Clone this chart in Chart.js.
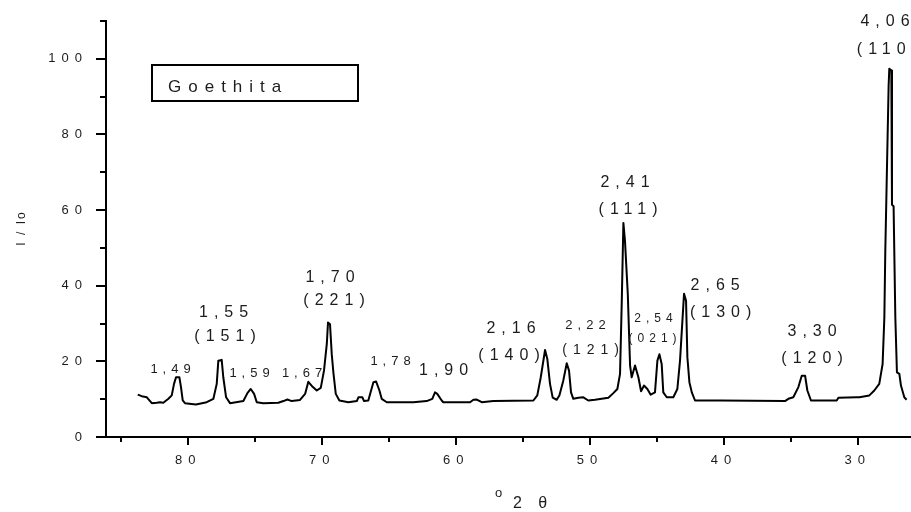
<!DOCTYPE html>
<html>
<head>
<meta charset="utf-8">
<script src="https://cdn.jsdelivr.net/npm/chart.js@4.4.1/dist/chart.umd.min.js"></script>
<style>
  html, body { margin: 0; padding: 0; background: #fff; }
  #wrap { width: 911px; height: 512px; }
</style>
</head>
<body>
<div id="wrap"><canvas id="xrd"></canvas></div>
<script>
// ── Goethite XRD pattern ──

var twoTheta = [
  83.78, 83.48, 83.10, 82.73, 82.36, 82.11, 81.87, 81.49, 81.24, 81.07,
  80.92, 80.67, 80.55, 80.42, 80.25, 79.43, 78.63, 78.13, 77.88, 77.76,
  77.51, 77.39, 77.18, 76.89, 75.89, 75.59, 75.34, 75.09, 74.89, 74.40,
  73.28, 72.90, 72.60, 72.28, 71.66, 71.28, 71.04, 70.78, 70.41, 70.11,
  69.87, 69.66, 69.57, 69.42, 69.29, 69.17, 68.99, 68.72, 68.05, 67.42,
  67.30, 67.00, 66.88, 66.56, 66.18, 65.98, 65.73, 65.56, 65.18, 63.20,
  62.20, 61.78, 61.58, 61.41, 61.08, 60.96, 58.96, 58.71, 58.46, 58.09,
  57.22, 54.23, 53.94, 53.68, 53.36, 53.19, 52.99, 52.79, 52.49, 52.29,
  52.00, 51.74, 51.57, 51.42, 51.25, 50.87, 50.50, 50.13, 49.63, 48.63,
  48.26, 47.96, 47.76, 47.63, 47.51, 47.39, 47.18, 47.01, 46.89, 46.64,
  46.39, 46.19, 45.97, 45.72, 45.47, 45.15, 44.97, 44.82, 44.65, 44.53,
  44.27, 43.78, 43.48, 43.28, 42.98, 42.83, 42.73, 42.58, 42.40, 42.16,
  40.29, 35.44, 35.19, 34.82, 34.44, 34.19, 33.94, 33.77, 33.50, 31.58,
  31.45, 30.08, 29.88, 29.14, 28.77, 28.40, 28.15, 28.02, 27.95, 27.85,
  27.70, 27.65, 27.50, 27.45, 27.33, 27.20, 27.08, 26.90, 26.78, 26.53,
  26.36
];

var intensity = [
  11.2, 10.8, 10.5, 8.95, 9.05, 9.2, 9.05, 10.1, 11.0, 14.05,
  15.8, 15.8, 13.2, 9.7, 8.95, 8.6, 9.2, 10.1, 14.05, 20.2,
  20.4, 15.8, 10.5, 8.95, 9.5, 11.6, 12.7, 11.4, 9.2, 8.95,
  9.05, 9.5, 9.9, 9.5, 9.8, 11.4, 14.6, 13.5, 12.3, 13.0,
  17.55, 24.6, 30.3, 29.8, 21.9, 17.1, 11.4, 9.65, 9.2, 9.5,
  10.5, 10.5, 9.5, 9.65, 14.5, 14.7, 12.3, 10.1, 9.2, 9.2,
  9.5, 10.1, 11.8, 11.4, 9.65, 9.2, 9.2, 9.85, 9.9, 9.2,
  9.5, 9.65, 11.0, 15.8, 23.0, 20.6, 14.05, 10.4, 9.85, 11.0,
  14.9, 19.5, 17.55, 11.8, 10.1, 10.4, 10.5, 9.65, 9.85, 10.4,
  11.6, 12.7, 16.7, 36.0, 56.6, 51.8, 37.7, 18.9, 15.8, 18.9,
  15.8, 12.1, 13.6, 12.7, 11.2, 11.8, 20.2, 21.9, 19.3, 11.8,
  10.5, 10.5, 12.7, 20.2, 37.9, 36.0, 21.05, 14.5, 11.8, 9.65,
  9.65, 9.5, 10.1, 10.5, 13.2, 16.2, 16.2, 12.3, 9.65, 9.65,
  10.4, 10.5, 10.5, 11.0, 12.3, 14.05, 19.3, 31.6, 49.1, 66.7,
  93.0, 97.4, 96.9, 61.4, 61.0, 31.6, 17.1, 16.7, 13.6, 10.5,
  9.85
];

// labelled ticks
var xTickLabels = [30, 40, 50, 60, 70, 80];
var yTickLabels = [0, 20, 40, 60, 80, 100];

// peak annotations: d-spacing (Å) and Miller indices
var dSpacing = ['1,49', '1,55', '1,59', '1,67', '1,70', '1,78', '1,90',
                '2,16', '2,22', '2,41', '2,54', '2,65', '3,30', '4,06'];
var hkl      = ['', '(151)', '', '', '(221)', '', '',
                '(140)', '(121)', '(111)', '(021)', '(130)', '(120)', '(110)'];

// where each annotation sits: [x, y] in axis units, font size
var dPos   = [[81.33, 18.1], [77.37, 33.3], [75.43, 17.0], [71.51, 17.0], [69.42, 42.6],
              [64.9, 20.2], [60.94, 17.8], [55.9, 29.1], [50.34, 29.7], [47.39, 67.55],
              [45.26, 31.5], [40.66, 40.45], [33.42, 28.1], [27.97, 110.2]];
var dSize  = [13, 16, 13, 13, 16, 13, 16, 16, 13, 16, 12, 16, 16, 16];
var hklPos = [null, [77.26, 27.0], null, null, [69.12, 36.5],
              null, null, [56.05, 21.8], [49.96, 23.3], [47.16, 60.45],
              [45.33, 26.2], [40.25, 33.3], [33.42, 21.0], [27.83, 102.8]];
var hklSize = [0, 16, 0, 0, 16, 0, 0, 16, 14, 16, 12, 16, 16, 16];

var FONT = '"Liberation Sans", Arial, sans-serif';
var INK = '#1c1c1c';

// ── helpers ──

function spacedText(ctx, text, cx, baseY, size, align) {
  var ls = Math.round(size * 0.4);
  ctx.font = size + 'px ' + FONT;
  ctx.letterSpacing = ls + 'px';
  ctx.textAlign = 'left';
  ctx.textBaseline = 'alphabetic';
  var w = ctx.measureText(text).width - ls;
  var x = align === 'left' ? cx : cx - w / 2;
  ctx.fillText(text, x, baseY);
}

var axisDecor = {
  id: 'axisDecor',
  beforeDraw: function(chart) {
    chart.ctx.letterSpacing = '6px';
  },
  afterDraw: function(chart) {
    var ctx = chart.ctx, a = chart.chartArea;
    var xs = chart.scales.x, ys = chart.scales.y;
    ctx.save();
    ctx.letterSpacing = '0px';
    ctx.strokeStyle = '#000';
    ctx.lineWidth = 2;
    ctx.lineCap = 'butt';

    // tick marks, long for labelled values
    ys.ticks.forEach(function(t) {
      var py = Math.round(ys.getPixelForValue(t.value));
      var len = yTickLabels.indexOf(t.value) >= 0 ? 10 : 6;
      ctx.beginPath(); ctx.moveTo(a.left - len, py); ctx.lineTo(a.left, py); ctx.stroke();
    });
    xs.ticks.forEach(function(t) {
      var px = Math.round(xs.getPixelForValue(t.value));
      var len = xTickLabels.indexOf(t.value) >= 0 ? 8 : 5;
      ctx.beginPath(); ctx.moveTo(px, a.bottom); ctx.lineTo(px, a.bottom + len); ctx.stroke();
    });

    // sample box
    ctx.strokeRect(152, 65, 206, 36);
    ctx.fillStyle = INK;
    ctx.font = '17px ' + FONT;
    ctx.letterSpacing = '7px';
    ctx.textAlign = 'left';
    ctx.textBaseline = 'alphabetic';
    ctx.fillText('Goethita', 168, 92);

    // peak labels
    for (var i = 0; i < dSpacing.length; i++) {
      var s = dSize[i];
      spacedText(ctx, dSpacing[i], xs.getPixelForValue(dPos[i][0]),
                 ys.getPixelForValue(dPos[i][1]) + s * 0.36, s);
      if (hklPos[i]) {
        var h = hklSize[i];
        spacedText(ctx, hkl[i], xs.getPixelForValue(hklPos[i][0]),
                   ys.getPixelForValue(hklPos[i][1]) + h * 0.36, h);
      }
    }

    // axis titles
    ctx.save();
    ctx.translate(21, (a.top + a.bottom) / 2);
    ctx.rotate(-Math.PI / 2);
    ctx.font = '12px ' + FONT;
    ctx.letterSpacing = '2px';
    ctx.textAlign = 'center';
    ctx.fillText('I / Io', 1, 4);
    ctx.restore();

    spacedText(ctx, 'o', 495, 497, 13, 'left');
    ctx.font = '16px ' + FONT;
    ctx.letterSpacing = '6px';
    ctx.fillText('2 \u03B8', 513, 508);

    ctx.restore();
  }
};

// ── chart ──

var points = twoTheta.map(function(t, i) { return { x: t, y: intensity[i] }; });

new Chart(document.getElementById('xrd'), {
  type: 'scatter',
  data: {
    datasets: [{
      data: points,
      showLine: true,
      borderColor: '#000',
      borderWidth: 2,
      pointRadius: 0,
      tension: 0,
      borderJoinStyle: 'round'
    }]
  },
  options: {
    responsive: true,
    maintainAspectRatio: false,
    animation: false,
    events: [],
    layout: { padding: { top: 21, right: 0, bottom: 0, left: 0 } },
    plugins: { legend: { display: false }, tooltip: { enabled: false } },
    scales: {
      x: {
        type: 'linear',
        reverse: true,
        min: 26.03,
        max: 86.15,
        afterFit: function(s) { s.height = 75; s.paddingLeft = 0; s.paddingRight = 0; },
        grid: { display: true, drawOnChartArea: false, drawTicks: false },
        border: { display: true, color: '#000', width: 2 },
        ticks: {
          stepSize: 5,
          includeBounds: false,
          autoSkip: false,
          maxRotation: 0,
          padding: 16,
          color: INK,
          font: { family: FONT, size: 13 },
          callback: function(v) { return xTickLabels.indexOf(v) >= 0 ? String(v) : ''; }
        }
      },
      y: {
        type: 'linear',
        min: 0,
        max: 110,
        afterFit: function(s) { s.width = 106; s.paddingTop = 0; s.paddingBottom = 0; },
        grid: { display: true, drawOnChartArea: false, drawTicks: false },
        border: { display: true, color: '#000', width: 2 },
        ticks: {
          stepSize: 10,
          autoSkip: false,
          padding: 18,
          color: INK,
          font: { family: FONT, size: 13 },
          callback: function(v) { return yTickLabels.indexOf(v) >= 0 ? String(v) : ''; }
        }
      }
    }
  },
  plugins: [axisDecor]
});
</script>
</body>
</html>
